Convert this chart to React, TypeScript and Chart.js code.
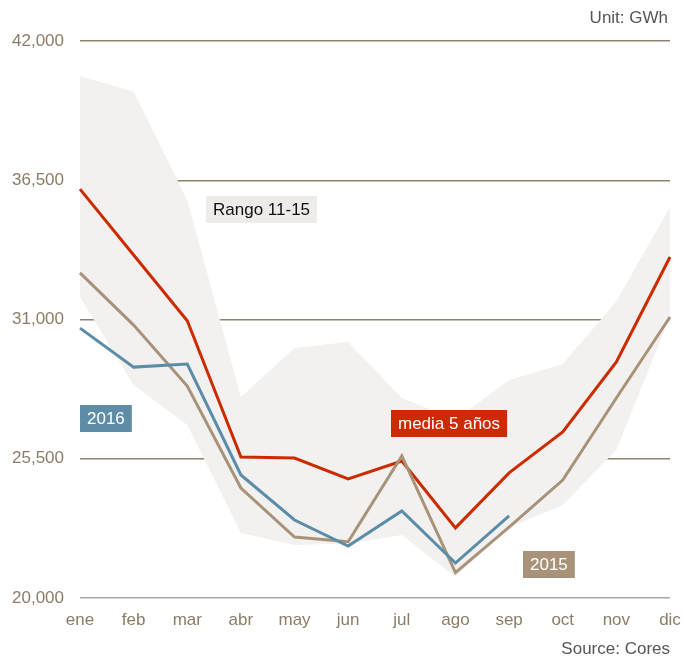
import React, { useEffect, useRef } from "react";
import { Chart, registerables } from "chart.js";

Chart.register(...registerables);

const months = ["ene", "feb", "mar", "abr", "may", "jun", "jul", "ago", "sep", "oct", "nov", "dic"];
const media5 = [36150, 33550, 30950, 25570, 25530, 24700, 25410, 22770, 24940, 26560, 29320, 33470];
const y2015 = [32840, 30780, 28370, 24345, 22410, 22220, 25610, 21000, 22800, 24660, 27900, 31100];
const y2016 = [30660, 29120, 29240, 24860, 23080, 22050, 23440, 21380, 23240];
const rangoMax = [40620, 40000, 35720, 27940, 29870, 30110, 27900, 27030, 28610, 29240, 31720, 35440];
const rangoMin = [31890, 28410, 26830, 22570, 22090, 22150, 22490, 20830, 22780, 23670, 25850, 31100];
const yTicks = [20000, 25500, 31000, 36500, 42000];

const FONT = "'Liberation Sans', Arial, sans-serif";

type Tag = { text: string; x: number; y: number; bg: string; fg: string };
const tags: Tag[] = [
  { text: "Rango 11-15", x: 206, y: 196, bg: "#eeece9", fg: "#111111" },
  { text: "2016", x: 80, y: 405, bg: "#5e8ca6", fg: "#ffffff" },
  { text: "media 5 años", x: 391, y: 410, bg: "#cc2b00", fg: "#ffffff" },
  { text: "2015", x: 523, y: 551, bg: "#a8937a", fg: "#ffffff" },
];

const tagPlugin = {
  id: "tags",
  afterDatasetsDraw(chart: any) {
    const ctx = chart.ctx;
    ctx.save();
    ctx.font = `17px ${FONT}`;
    ctx.textBaseline = "middle";
    ctx.textAlign = "left";
    for (const t of tags) {
      const w = ctx.measureText(t.text).width + 14;
      ctx.fillStyle = t.bg;
      ctx.fillRect(t.x, t.y, w, 27);
      ctx.fillStyle = t.fg;
      ctx.fillText(t.text, t.x + 7, t.y + 14);
    }
    ctx.fillStyle = "#555555";
    ctx.textAlign = "right";
    ctx.fillText("Unit: GWh", 668, 18);
    ctx.fillText("Source: Cores", 670, 649);
    ctx.restore();
  },
};

export default function App() {
  const ref = useRef<HTMLCanvasElement>(null);
  useEffect(() => {
    document.body.style.margin = "0";
    const chart = new Chart(ref.current!, {
      type: "line",
      data: {
        labels: months,
        datasets: [
          { label: "2016", data: y2016, borderColor: "#5b8ca8", borderWidth: 3, pointRadius: 0, fill: false, tension: 0 },
          { label: "2015", data: y2015, borderColor: "#a8937a", borderWidth: 3, pointRadius: 0, fill: false, tension: 0 },
          { label: "media 5 años", data: media5, borderColor: "#cc2b00", borderWidth: 3, pointRadius: 0, fill: false, tension: 0 },
          { label: "max", data: rangoMax, borderWidth: 0, borderColor: "rgba(0,0,0,0)", backgroundColor: "#f2f1ef", pointRadius: 0, fill: "+1", tension: 0 },
          { label: "min", data: rangoMin, borderWidth: 0, borderColor: "rgba(0,0,0,0)", pointRadius: 0, fill: false, tension: 0 },
        ],
      },
      options: {
        responsive: false,
        animation: false,
        layout: { padding: { top: 41, right: 14, left: 0, bottom: 0 } },
        plugins: { legend: { display: false }, tooltip: { enabled: false } },
        scales: {
          x: {
            border: { display: false },
            grid: { display: false, drawTicks: false },
            ticks: { color: "#8a7d68", font: { family: FONT, size: 17 }, padding: 12, maxRotation: 0, autoSkip: false },
            afterFit: (s: any) => { s.height = 59; s.paddingLeft = 0; s.paddingRight = 0; },
          },
          y: {
            min: 20000,
            max: 42000,
            afterBuildTicks: (s: any) => { s.ticks = yTicks.map((v) => ({ value: v })); },
            border: { display: false },
            grid: {
              drawTicks: false,
              lineWidth: 1.5,
              color: (c: any) => (c.tick && c.tick.value === 20000 ? "#a8a8a8" : "#8d836f"),
            },
            ticks: {
              color: "#8a7d68",
              font: { family: FONT, size: 17 },
              padding: 16,
              callback: (v: any) => Number(v).toLocaleString("en-US"),
            },
            afterFit: (s: any) => { s.width = 80; s.paddingTop = 0; s.paddingBottom = 0; },
          },
        },
      },
      plugins: [tagPlugin],
    });
    return () => chart.destroy();
  }, []);
  return <canvas ref={ref} width={684} height={657} style={{ display: "block" }} />;
}
